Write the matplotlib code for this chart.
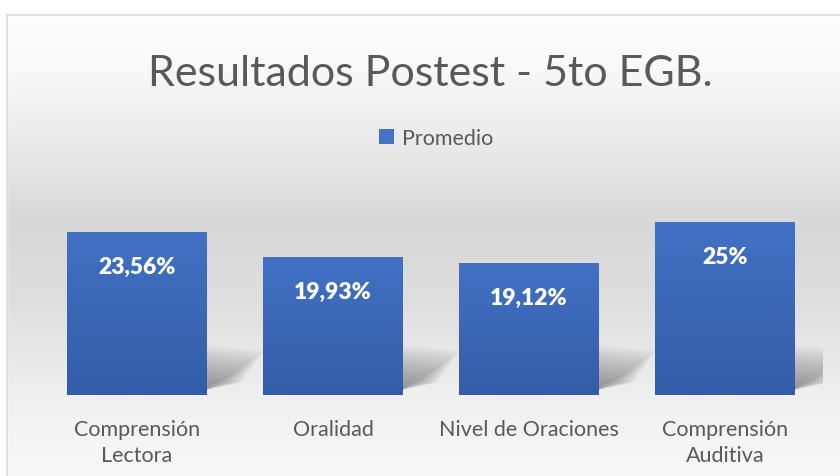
import numpy as np
import matplotlib.pyplot as plt
from matplotlib.patches import Polygon
from matplotlib.lines import Line2D

categories = ["Comprensión\nLectora", "Oralidad", "Nivel de Oraciones", "Comprensión\nAuditiva"]
promedio = [23.56, 19.93, 19.12, 25.0]
labels = ["23,56%", "19,93%", "19,12%", "25%"]
title = "Resultados Postest - 5to EGB."
series_name = "Promedio"

font = ["Lato", "DejaVu Sans"]
txt = "#595959"

W, H = 840, 477
fig = plt.figure(figsize=(W / 100, H / 100), dpi=100)

# background gradient (white -> light gray -> lighter)
bg = fig.add_axes([0, 0, 1, 1], zorder=0)
ypx = np.arange(H)
stops_y = [0, 16, 60, 140, 220, 300, 400, 477]
stops_v = [255, 254, 250, 235, 216, 222, 240, 248]
g = np.interp(ypx, stops_y, stops_v) / 255.0
img = np.repeat(g[:, None], 4, axis=1)
img = np.dstack([img, img, img])
img[:16, :, :] = 1.0
bg.imshow(img, aspect="auto", extent=[0, 1, 0, 1], interpolation="bilinear")
bg.axis("off")
# white area left of border
bg.add_patch(plt.Rectangle((0, 0), 7 / W, 1, color="white", transform=bg.transAxes))
fig.add_artist(Line2D([7 / W, 7 / W], [0, 1 - 16 / H], color="#d9d9d9", lw=1.2))
fig.add_artist(Line2D([7 / W, 1], [1 - 16 / H, 1 - 16 / H], color="#d9d9d9", lw=1.2))

# main axes
ymax = 30
ax = fig.add_axes([39 / W, (H - 396) / H, 784 / W, ymax * 6.92 / H], zorder=1)
ax.patch.set_alpha(0)
x = np.arange(len(categories))
bars = ax.bar(x, promedio, width=0.714, color="#4472c4", zorder=3, label=series_name)

grad = np.linspace(0, 1, 100)[:, None]
top_c = np.array([66, 113, 196]) / 255
bot_c = np.array([51, 93, 168]) / 255
bar_img = top_c[None, None, :] * (1 - grad[:, :, None]) + bot_c[None, None, :] * grad[:, :, None]

for b in bars:
    x0, w, h = b.get_x(), b.get_width(), b.get_height()
    im = ax.imshow(bar_img, extent=[x0, x0 + w, 0, h], aspect="auto", zorder=3.5,
                   interpolation="bilinear")
    im.set_clip_path(b)
    # soft shadow at the base, right side
    xr = x0 + w
    for k in range(14):
        s = 1.1 - k * 0.065
        pts = [(xr, 0.8), (xr, 6.2 * s + 0.3),
               (xr + 0.26 * s, 5.6 * s + 0.2), (xr + 0.16 * s, 1.8)]
        ax.add_patch(Polygon(pts, closed=True, color="#444444", alpha=0.045,
                             lw=0, zorder=2))

for xi, v, lab in zip(x, promedio, labels):
    ax.text(xi, v - 5.0, lab, ha="center", va="center", color="white",
            fontsize=16.5, fontweight="heavy", family=font, zorder=5)

ax.set_xlim(-0.5, len(categories) - 0.5)
ax.set_ylim(0, ymax)
ax.set_yticks([])
ax.set_xticks(x)
ax.set_xticklabels(categories, fontsize=15.5, color=txt, family=font)
for t in ax.get_xticklabels():
    t.set_linespacing(1.42)
ax.tick_params(axis="x", length=0, pad=17)
for s in ax.spines.values():
    s.set_visible(False)

fig.text(430 / W, 1 - 74 / H, title, ha="center", va="center", fontsize=31,
         color=txt, family=font)

leg = fig.legend(handles=[bars], labels=[series_name], loc="center",
                 bbox_to_anchor=(436 / W, 1 - 139 / H), frameon=False,
                 prop={"family": font, "size": 15.5}, handlelength=0.7,
                 handleheight=0.7, handletextpad=0.4)
for t in leg.get_texts():
    t.set_color(txt)

fig.savefig("out.png", dpi=100)
